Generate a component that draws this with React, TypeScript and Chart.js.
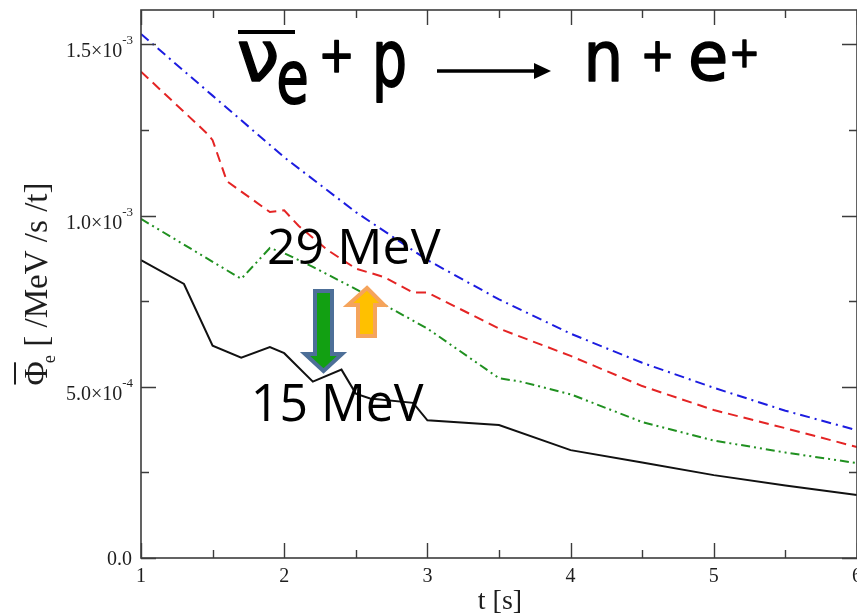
import { useEffect, useRef } from "react";
import { Chart, registerables } from "chart.js";

Chart.register(...registerables);

// ---- data (flux values in units of 1e-3 /MeV/s/t) ----
const Y_UNIT = 1e-3;

const blueT = [1, 1.5, 2, 2.5, 3, 3.5, 4, 4.5, 5, 5.5, 6];
const blueV = [1.53, 1.35, 1.17, 1.01, 0.87, 0.755, 0.655, 0.57, 0.497, 0.43, 0.373];

const redT = [1, 1.46, 1.5, 1.6, 1.9, 2.0, 2.1, 2.3, 2.5, 2.7, 2.9, 3.0, 3.5, 4, 4.5, 5, 5.5, 6];
const redV = [1.42, 1.24, 1.22, 1.1, 1.01, 1.015, 0.97, 0.9, 0.845, 0.82, 0.775, 0.775, 0.67, 0.59, 0.502, 0.432, 0.379, 0.324];

const greenT = [1, 1.7, 1.9, 2.0, 2.2, 2.5, 3.0, 3.5, 3.65, 4.0, 4.5, 5, 5.5, 6];
const greenV = [0.99, 0.815, 0.905, 0.89, 0.85, 0.785, 0.67, 0.525, 0.515, 0.478, 0.397, 0.343, 0.308, 0.277];

const blackT = [1, 1.3, 1.5, 1.7, 1.9, 2.0, 2.2, 2.4, 2.5, 2.6, 2.9, 3.0, 3.5, 4.0, 4.5, 5.0, 5.5, 6.0];
const blackV = [0.87, 0.8, 0.62, 0.585, 0.616, 0.598, 0.515, 0.55, 0.48, 0.466, 0.453, 0.402, 0.388, 0.315, 0.279, 0.242, 0.212, 0.184];

const xMajorTicks = [1, 2, 3, 4, 5, 6];
const xMinorTicks = [1.5, 2.5, 3.5, 4.5, 5.5];
const xTickLabels = ["1", "2", "3", "4", "5", "6"];

const yMajorTicks = [0, 5e-4, 1e-3, 1.5e-3];
const yMinorTicks = [2.5e-4, 7.5e-4, 1.25e-3];
const yTickMantissa = ["0.0", "5.0×10", "1.0×10", "1.5×10"];
const yTickExponent = ["", "-4", "-3", "-3"];

const label15 = "15 MeV";
const label29 = "29 MeV";

function pts(t: number[], v: number[]) {
  return t.map((x, i) => ({ x, y: v[i] * Y_UNIT }));
}

function fitText(
  ctx: CanvasRenderingContext2D,
  text: string,
  font: string,
  x0: number,
  x1: number,
  y0: number,
  y1: number,
  strokeW = 0
) {
  ctx.save();
  ctx.font = font;
  ctx.textAlign = "left";
  ctx.textBaseline = "alphabetic";
  const m = ctx.measureText(text);
  const L = m.actualBoundingBoxLeft;
  const R = m.actualBoundingBoxRight;
  const A = m.actualBoundingBoxAscent;
  const D = m.actualBoundingBoxDescent;
  const sx = (x1 - x0 - strokeW) / (L + R);
  const sy = (y1 - y0 - strokeW) / (A + D);
  ctx.translate(x0 + strokeW / 2, y0 + strokeW / 2);
  ctx.scale(sx, sy);
  ctx.fillText(text, L, A);
  if (strokeW > 0) {
    ctx.lineWidth = strokeW / sx;
    ctx.lineJoin = "round";
    ctx.strokeStyle = ctx.fillStyle as string;
    ctx.strokeText(text, L, A);
  }
  ctx.restore();
}

function blockArrow(
  ctx: CanvasRenderingContext2D,
  p: [number, number][],
  fill: string,
  stroke: string
) {
  ctx.save();
  ctx.beginPath();
  ctx.moveTo(p[0][0], p[0][1]);
  for (let i = 1; i < p.length; i++) ctx.lineTo(p[i][0], p[i][1]);
  ctx.closePath();
  ctx.fillStyle = fill;
  ctx.fill();
  ctx.lineWidth = 4;
  ctx.lineJoin = "miter";
  ctx.strokeStyle = stroke;
  ctx.stroke();
  ctx.restore();
}

const overlay = {
  id: "overlay",
  afterDatasetsDraw(chart: any) {
    const { ctx, chartArea: a, scales } = chart;
    const xs = scales.x;
    const ys = scales.y;
    ctx.save();

    // frame
    ctx.strokeStyle = "#3c3c3c";
    ctx.lineWidth = 1.6;
    ctx.strokeRect(a.left, a.top, a.right - a.left, a.bottom - a.top);

    // ticks (inward, mirrored)
    ctx.lineWidth = 1.4;
    const tickX = (v: number, len: number) => {
      const px = Math.round(xs.getPixelForValue(v)) + 0.5;
      ctx.beginPath();
      ctx.moveTo(px, a.bottom);
      ctx.lineTo(px, a.bottom - len);
      ctx.moveTo(px, a.top);
      ctx.lineTo(px, a.top + len);
      ctx.stroke();
    };
    const tickY = (v: number, len: number) => {
      const py = Math.round(ys.getPixelForValue(v)) + 0.5;
      ctx.beginPath();
      ctx.moveTo(a.left, py);
      ctx.lineTo(a.left + len, py);
      ctx.moveTo(a.right, py);
      ctx.lineTo(a.right - len, py);
      ctx.stroke();
    };
    xMajorTicks.forEach((v) => tickX(v, 15));
    xMinorTicks.forEach((v) => tickX(v, 8));
    yMajorTicks.forEach((v) => tickY(v, 15));
    yMinorTicks.forEach((v) => tickY(v, 8));

    // tick labels
    ctx.fillStyle = "#1e1e1e";
    ctx.font = "20px 'Liberation Serif'";
    ctx.textAlign = "center";
    ctx.textBaseline = "alphabetic";
    xMajorTicks.forEach((v, i) => {
      ctx.fillText(xTickLabels[i], xs.getPixelForValue(v), 582);
    });

    yMajorTicks.forEach((v, i) => {
      const py = ys.getPixelForValue(v);
      const right = a.left - 8;
      if (!yTickExponent[i]) {
        ctx.font = "20px 'Liberation Serif'";
        ctx.textAlign = "right";
        ctx.fillText(yTickMantissa[i], right - 1, py + 7);
      } else {
        ctx.font = "13px 'Liberation Serif'";
        ctx.textAlign = "right";
        const we = ctx.measureText(yTickExponent[i]).width;
        ctx.fillText(yTickExponent[i], right, py);
        ctx.font = "20px 'Liberation Serif'";
        ctx.fillText(yTickMantissa[i], right - we, py + 13);
      }
    });

    // x title
    ctx.font = "28px 'Liberation Serif'";
    ctx.textAlign = "center";
    ctx.fillText("t [s]", 500, 609);

    // y title (rotated)
    ctx.save();
    ctx.translate(47, 284);
    ctx.rotate(-Math.PI / 2);
    const fPhi = "34px 'Liberation Serif'";
    const fSub = "19px 'Liberation Serif'";
    const fMain = "34px 'Liberation Serif'";
    const rest = " [ /MeV /s /t]";
    ctx.textAlign = "left";
    ctx.font = fPhi;
    const wPhi = ctx.measureText("Φ").width;
    ctx.font = fSub;
    const wSub = ctx.measureText("e").width;
    ctx.font = fMain;
    const wRest = ctx.measureText(rest).width;
    const total = wPhi + wSub - 2 + wRest;
    const k = 203 / total;
    ctx.scale(k, 1);
    let cx = -total / 2;
    ctx.font = fPhi;
    ctx.fillText("Φ", cx, 0);
    ctx.fillRect(cx + 1, -33, wPhi - 2, 2);
    cx += wPhi - 2;
    ctx.font = fSub;
    ctx.fillText("e", cx, 8);
    cx += wSub;
    ctx.font = fMain;
    ctx.fillText(rest, cx, 0);
    ctx.restore();

    // reaction title
    ctx.fillStyle = "#000";
    const tf = "72px 'DejaVu Sans'";
    const sw = 1.4;
    fitText(ctx, "ν", tf, 238, 277, 42, 82, sw);
    ctx.fillRect(238, 30, 57, 4);
    fitText(ctx, "e", tf, 278, 307, 62, 105, sw);
    fitText(ctx, "+", tf, 322, 351, 40, 73, sw);
    fitText(ctx, "p", tf, 376, 405, 42, 103, sw);
    ctx.lineWidth = 3.5;
    ctx.strokeStyle = "#000";
    ctx.beginPath();
    ctx.moveTo(437, 71);
    ctx.lineTo(538, 71);
    ctx.stroke();
    ctx.beginPath();
    ctx.moveTo(534, 63);
    ctx.lineTo(551, 71);
    ctx.lineTo(534, 79);
    ctx.closePath();
    ctx.fill();
    fitText(ctx, "n", tf, 588, 619, 42, 82, sw);
    fitText(ctx, "+", tf, 644, 671, 42, 72, sw);
    fitText(ctx, "e", tf, 690, 726, 42, 82, sw);
    fitText(ctx, "+", tf, 732, 757, 40, 68, sw);

    // energy annotations
    const af = "48px 'Open Sans'";
    fitText(ctx, label29, af, 269, 441, 228, 264);
    fitText(ctx, label15, af, 255, 424, 385, 421);

    // block arrows
    blockArrow(
      ctx,
      [
        [315, 291],
        [332, 291],
        [332, 354],
        [342, 354],
        [323.5, 371],
        [305, 354],
        [315, 354],
      ],
      "#12a012",
      "#4d6f98"
    );
    blockArrow(
      ctx,
      [
        [367, 288],
        [384, 305],
        [375, 305],
        [375, 336],
        [358, 336],
        [358, 305],
        [348, 305],
      ],
      "#ffc000",
      "#f5a45c"
    );

    ctx.restore();
  },
};

export default function App() {
  const ref = useRef<HTMLCanvasElement | null>(null);

  useEffect(() => {
    const canvas = ref.current;
    if (!canvas) return;
    const common = { pointRadius: 0, borderWidth: 2, fill: false, tension: 0 };
    const chart = new Chart(canvas, {
      type: "line",
      data: {
        datasets: [
          { ...common, label: "blue", data: pts(blueT, blueV), borderColor: "#1c1ce0", borderDash: [10, 5, 2, 5] },
          { ...common, label: "red", data: pts(redT, redV), borderColor: "#e42424", borderDash: [10, 6] },
          { ...common, label: "green", data: pts(greenT, greenV), borderColor: "#209020", borderDash: [9, 4, 2, 4, 2, 4] },
          { ...common, label: "black", data: pts(blackT, blackV), borderColor: "#111111" },
        ],
      },
      options: {
        animation: false,
        responsive: false,
        layout: { padding: { left: 141, top: 10, right: -1, bottom: 58 } },
        plugins: { legend: { display: false }, tooltip: { enabled: false } },
        scales: {
          x: { type: "linear", min: 1, max: 6, display: false },
          y: { type: "linear", min: 0, max: 1.6e-3, display: false },
        },
      },
      plugins: [overlay],
    } as any);
    return () => chart.destroy();
  }, []);

  return (
    <div style={{ position: "fixed", left: 0, top: 0, width: 857, height: 616, background: "#fff" }}>
      <canvas ref={ref} width={857} height={616} style={{ display: "block", width: 857, height: 616 }} />
    </div>
  );
}
